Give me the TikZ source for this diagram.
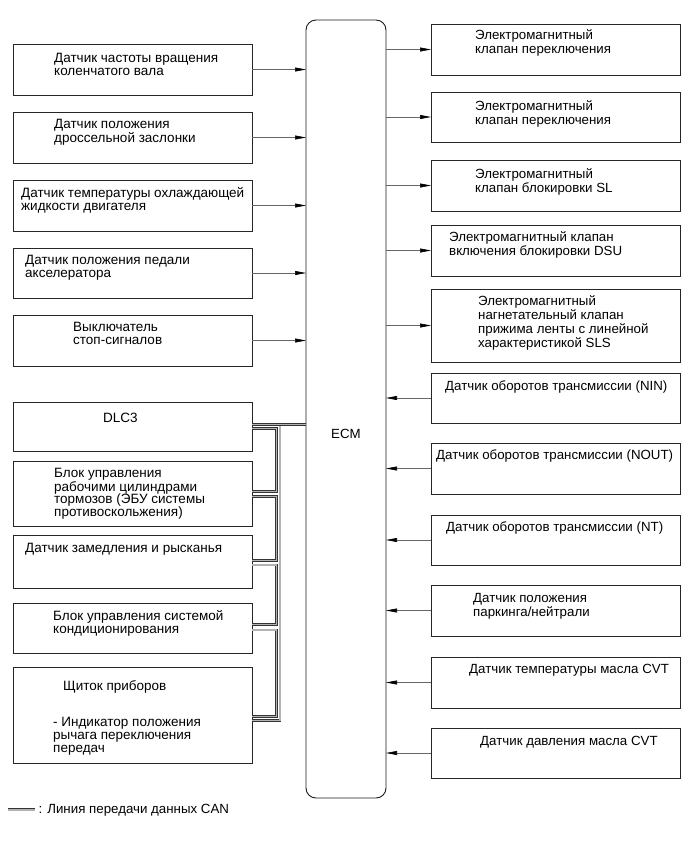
\documentclass[tikz,border=0pt]{standalone}
\usepackage{fontspec}
\setmainfont{Liberation Sans}
\usetikzlibrary{arrows.meta}
\begin{document}
\begin{tikzpicture}[x=1pt,y=-1pt,
  lbox/.style={draw=black!85, line width=0.8pt, minimum width=239pt, anchor=north west, inner sep=0pt, outer sep=0pt},
  rbox/.style={draw=black!85, line width=0.8pt, minimum width=249pt, anchor=north west, inner sep=0pt, outer sep=0pt},
  ltxt/.style={anchor=base west, inner sep=0pt, align=left, font=\fontsize{13.5pt}{12.7pt}\selectfont},
  rtxt/.style={anchor=base west, inner sep=0pt, align=left, font=\fontsize{13.3pt}{14pt}\selectfont},
  sig/.style={draw=black!60, line width=0.6pt, -{Triangle[length=11pt,width=4pt,color=black]}},
  can/.style={draw=black!80, line width=0.75pt, double=gray!60, double distance=1.3pt},
]
\useasboundingbox (0,0) rectangle (691,855);

% ECM
\node[draw=black!90, line width=0.9pt, rounded corners=10pt, minimum width=80pt, minimum height=778pt, anchor=north west, inner sep=0pt, outer sep=0pt] (ecm) at (306,20) {};
\node[inner sep=0pt, anchor=base west, font=\fontsize{13.3pt}{14pt}\selectfont] (ecmlabel) at (331,438) {ECM};

% Left input boxes (anchor = baseline of last line)
\node[lbox, minimum height=51pt] (l1) at (13,44) {};
\node[ltxt] (t1) at (54,75.2) {Датчик частоты вращения\\коленчатого вала};
\node[lbox, minimum height=51pt] (l2) at (13,112) {};
\node[ltxt] (t2) at (54,142.7) {Датчик положения\\дроссельной заслонки};
\node[lbox, minimum height=51pt] (l3) at (13,180) {};
\node[ltxt] (t3) at (21,210.2) {Датчик температуры охлаждающей\\жидкости двигателя};
\node[lbox, minimum height=50pt] (l4) at (13,248) {};
\node[ltxt] (t4) at (25,277.2) {Датчик положения педали\\акселератора};
\node[lbox, minimum height=51pt] (l5) at (13,315) {};
\node[ltxt] (t5) at (73,344.2) {Выключатель\\стоп-сигналов};

% Left CAN boxes
\node[lbox, minimum height=49pt] (dlc) at (13,402) {};
\node[ltxt] (tdlc) at (103,422) {DLC3};
\node[lbox, minimum height=65pt] (blk) at (13,461) {};
\node[ltxt] (tblk) at (54,516.4) {Блок управления\\рабочими цилиндрами\\тормозов (ЭБУ системы\\противоскольжения)};
\node[lbox, minimum height=53pt] (yaw) at (13,535) {};
\node[ltxt] (tyaw) at (25,552.6) {Датчик замедления и рысканья};
\node[lbox, minimum height=50pt] (ac) at (13,603) {};
\node[ltxt] (tac) at (53,633) {Блок управления системой\\кондиционирования};
\node[lbox, minimum height=96pt] (meter) at (13,667) {};
\node[ltxt] (tmeter) at (63,690) {Щиток приборов};
\node[ltxt, font=\fontsize{13.5pt}{13.3pt}\selectfont] (tmeter2) at (53,752.6) {- Индикатор положения\\рычага переключения\\передач};

% Right boxes
\node[rbox, minimum height=51pt] (r1) at (431,24) {};
\node[rtxt] (u1) at (475,53.3) {Электромагнитный\\клапан переключения};
\node[rbox, minimum height=50pt] (r2) at (431,92) {};
\node[rtxt] (u2) at (475,124) {Электромагнитный\\клапан переключения};
\node[rbox, minimum height=51pt] (r3) at (431,160) {};
\node[rtxt] (u3) at (475,192.6) {Электромагнитный\\клапан блокировки SL};
\node[rbox, minimum height=51pt] (r4) at (431,225) {};
\node[rtxt] (u4) at (449,255.6) {Электромагнитный клапан\\включения блокировки DSU};
\node[rbox, minimum height=73pt] (r5) at (431,289) {};
\node[rtxt] (u5) at (478,347) {Электромагнитный\\нагнетательный клапан\\прижима ленты с линейной\\характеристикой SLS};
\node[rbox, minimum height=50pt] (r6) at (431,373) {};
\node[rtxt] (u6) at (445,390.3) {Датчик оборотов трансмиссии (NIN)};
\node[rbox, minimum height=51pt] (r7) at (431,443) {};
\node[rtxt] (u7) at (436,459.3) {Датчик оборотов трансмиссии (NOUT)};
\node[rbox, minimum height=50pt] (r8) at (431,515) {};
\node[rtxt] (u8) at (446,531) {Датчик оборотов трансмиссии (NT)};
\node[rbox, minimum height=51pt] (r9) at (431,585) {};
\node[rtxt] (u9) at (473,616.6) {Датчик положения\\паркинга/нейтрали};
\node[rbox, minimum height=51pt] (r10) at (431,657) {};
\node[rtxt] (u10) at (469,673.6) {Датчик температуры масла CVT};
\node[rbox, minimum height=50pt] (r11) at (431,728) {};
\node[rtxt] (u11) at (480,745.3) {Датчик давления масла CVT};

% Signal arrows
\foreach \n in {l1,l2,l3,l4,l5}
  \draw[sig] (\n.east) -- (\n.east -| ecm.west);
\foreach \n in {r1,r2,r3,r4,r5}
  \draw[sig] (\n.west -| ecm.east) -- (\n.west);
\foreach \n in {r6,r7,r8,r9,r10,r11}
  \draw[sig] (\n.west) -- (\n.west -| ecm.east);

% CAN lines
\coordinate (busi) at (276.5,0);
\coordinate (buso) at (280,0);
\coordinate (y0) at (0,424.5);
\coordinate (y1) at (0,428.8);
\coordinate (y2) at (0,491.5);
\coordinate (y3) at (0,496.5);
\coordinate (y4) at (0,560.5);
\coordinate (y5) at (0,565);
\coordinate (y6) at (0,624.5);
\coordinate (y7) at (0,630);
\coordinate (y8) at (0,716.5);
\coordinate (y9) at (0,720.5);

\draw[can] (buso |- y0) -- (buso |- y9) -- (meter.east |- y9);
\draw[can] (dlc.east |- y0) -- (ecm.west |- y0);
\draw[can] (dlc.east |- y1) -| (busi |- y2) -- (blk.east |- y2);
\draw[can] (blk.east |- y3) -| (busi |- y4) -- (yaw.east |- y4);
\draw[can] (yaw.east |- y5) -| (busi |- y6) -- (ac.east |- y6);
\draw[can] (ac.east |- y7) -| (busi |- y8) -- (meter.east |- y8);

% Legend
\coordinate (lg1) at (8,809.5);
\coordinate (lg2) at (35,809.5);
\draw[can, double distance=2pt] (lg1) -- (lg2);
\node[inner sep=0pt, anchor=base west, font=\fontsize{13.3pt}{14pt}\selectfont] (legend) at (38.5,813.5) {: Линия передачи данных CAN};
\end{tikzpicture}
\end{document}
